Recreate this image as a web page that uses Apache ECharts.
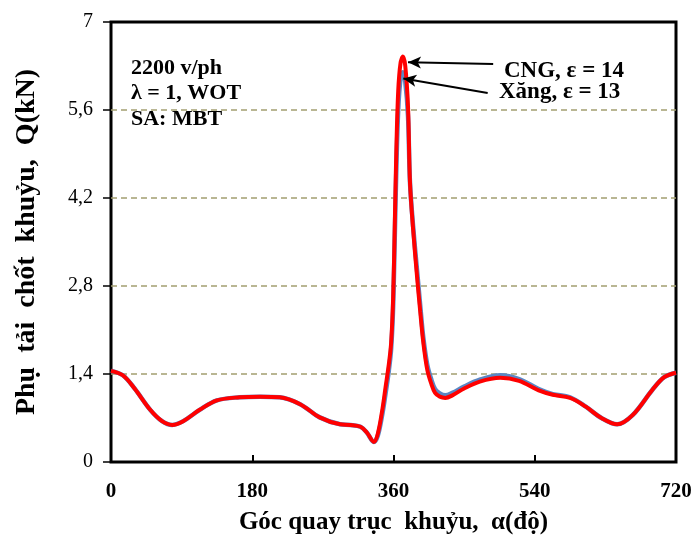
<!DOCTYPE html>
<html><head><meta charset="utf-8">
<script src="https://cdn.jsdelivr.net/npm/echarts@6/dist/echarts.min.js"></script>
<style>html,body{margin:0;padding:0;background:#fff}#c{width:696px;height:536px}</style>
</head><body><div id="c"></div>
<script>
// Crank angle (degrees)
const angles = [0,15,30,50,65,78,92,113,135,164,190,215,241,266,292,305,318,326,335,340,346,350,354,357,359.5,361.5,363.5,366,369,372,375,378.5,381,385,390,394,398,403,408,413,419,426,435,450,470,496,520,545,563,585,605,625,645,665,690,705,720];
// CNG, ε = 14 (kN)
const cngLoad = [1.45,1.38,1.17,0.83,0.65,0.59,0.65,0.83,0.98,1.03,1.04,1.03,0.92,0.71,0.60,0.59,0.56,0.47,0.32,0.45,0.85,1.2,1.55,1.9,2.6,3.7,4.9,5.9,6.35,6.45,6.3,5.65,4.45,3.7,2.95,2.4,1.9,1.47,1.25,1.1,1.04,1.02,1.06,1.17,1.28,1.34,1.29,1.14,1.07,1.02,0.88,0.70,0.60,0.75,1.15,1.35,1.42];
// Xăng, ε = 13 (kN)
const xangLoad = [1.45,1.38,1.17,0.83,0.65,0.59,0.65,0.83,0.98,1.03,1.04,1.03,0.92,0.71,0.60,0.59,0.56,0.47,0.32,0.42,0.78,1.1,1.45,1.8,2.45,3.5,4.6,5.6,6.1,6.2,6.05,5.5,4.45,3.75,3.05,2.5,1.98,1.55,1.32,1.16,1.09,1.06,1.1,1.2,1.31,1.38,1.32,1.16,1.08,1.03,0.88,0.70,0.60,0.75,1.15,1.35,1.42];
const seriesNames = ['Xăng, ε = 13','CNG, ε = 14'];
const xTickStep = 180;
const yTickStep = 1.4;
const conditionLines = ['2200 v/ph','λ = 1, WOT','SA: MBT'];
// arrow annotations [from (text), to (peak)] in data units
const arrowCNG = [[487,6.33],[378.5,6.36]];
const arrowXang = [[480,5.87],[372.5,6.1]];

const F = 'Liberation Serif, Times New Roman, serif';
const chart = echarts.init(document.getElementById('c'), null, {renderer:'canvas'});
const pair = (xs, ys) => xs.map((x,i)=>[x, ys[i]]);
chart.setOption({
  animation:false,
  backgroundColor:'#fff',
  grid:{left:111,right:20,top:22,bottom:74,show:true,borderColor:'#000',borderWidth:3,backgroundColor:'transparent',containLabel:false,outerBoundsMode:'none'},
  xAxis:{type:'value',min:0,max:720,interval:xTickStep,
    name:'Góc quay trục  khuỷu,  α(độ)',nameLocation:'middle',nameGap:48,
    nameTextStyle:{fontFamily:F,fontWeight:'bold',fontSize:25,color:'#000'},
    axisLine:{show:false},
    axisTick:{show:true,inside:true,length:7,lineStyle:{color:'#000',width:2}},
    axisLabel:{fontFamily:F,fontWeight:'bold',fontSize:21,color:'#000',margin:19},
    splitLine:{show:false}},
  yAxis:{type:'value',min:0,max:7,interval:yTickStep,
    name:'Phụ  tải  chốt  khuỷu,  Q(kN)',nameLocation:'middle',nameGap:70,
    nameTextStyle:{fontFamily:F,fontWeight:'bold',fontSize:28,color:'#000'},
    axisLine:{show:false},
    axisTick:{show:true,inside:false,length:8,lineStyle:{color:'#000',width:1.5}},
    axisLabel:{fontFamily:F,fontSize:20,color:'#000',margin:18,
      formatter:v=>{const r=Math.round(v*10)/10; return (Number.isInteger(r)?String(r):r.toFixed(1)).replace('.',',');}},
    splitLine:{show:true,showMinLine:false,showMaxLine:false,lineStyle:{color:'#A39E70',width:1.5,type:[6,4]}}},
  series:[
    {name:seriesNames[0],type:'line',data:pair(angles,xangLoad),smooth:0.35,showSymbol:false,
      lineStyle:{color:'#5B87C4',width:4.5},z:3},
    {name:seriesNames[1],type:'line',data:pair(angles,cngLoad),smooth:0.35,showSymbol:false,
      lineStyle:{color:'#FF0000',width:4},z:4,
      markLine:{silent:true,symbol:['none','arrow'],symbolSize:[9,13],
        lineStyle:{color:'#000',width:2,type:'solid'},label:{show:false},
        data:[[{coord:arrowCNG[0]},{coord:arrowCNG[1]}],[{coord:arrowXang[0]},{coord:arrowXang[1]}]]}}
  ],
  graphic:[
    {type:'text',left:131,top:57,style:{text:conditionLines[0],font:'bold 22px '+F,fill:'#000'}},
    {type:'text',left:131,top:82,style:{text:conditionLines[1],font:'bold 22px '+F,fill:'#000'}},
    {type:'text',left:131,top:108,style:{text:conditionLines[2],font:'bold 22px '+F,fill:'#000'}},
    {type:'text',left:504,top:60,style:{text:seriesNames[1],font:'bold 23px '+F,fill:'#000'}},
    {type:'text',left:499,top:81,style:{text:seriesNames[0],font:'bold 23px '+F,fill:'#000'}}
  ]
});
</script></body></html>
